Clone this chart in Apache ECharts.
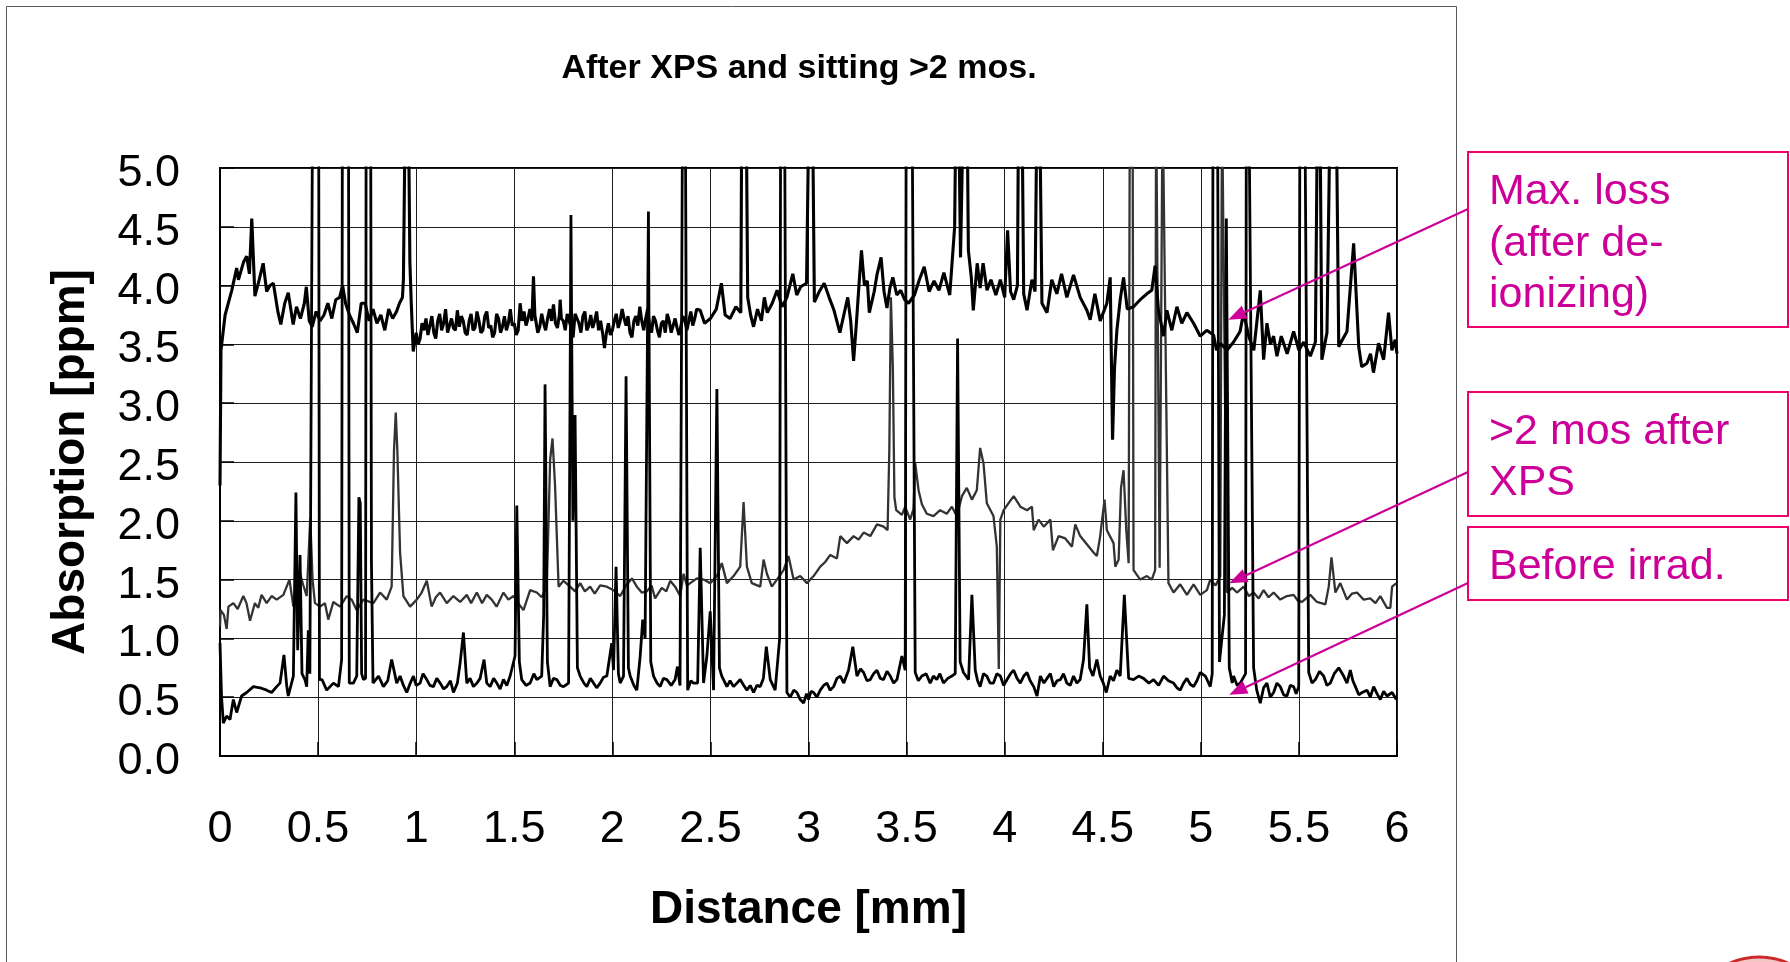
<!DOCTYPE html>
<html>
<head>
<meta charset="utf-8">
<script src="https://cdn.jsdelivr.net/npm/echarts@6/dist/echarts.min.js"></script>
<style>
html,body{margin:0;padding:0;background:#fff;}
#chart{width:1790px;height:962px;}
</style>
</head>
<body>
<div id="chart"></div>
<script>
// ---------- DATA ----------
const chartTitle = 'After XPS and sitting >2 mos.';
const xAxisTitle = 'Distance [mm]';
const yAxisTitle = 'Absorption [ppm]';
const seriesNames = ['Max. loss (after de-ionizing)', '>2 mos after XPS', 'Before irrad.'];

// Max. loss (after de-ionizing) – top trace [distance mm, absorption ppm]
const maxLoss = [[0,2.3],[0.005,3.45],[0.026,3.75],[0.06,3.96],[0.085,4.15],[0.094,4.05],[0.12,4.2],[0.136,4.25],[0.15,4.1],[0.162,4.57],[0.178,3.91],[0.2,4.05],[0.22,4.19],[0.238,3.95],[0.255,4.0],[0.272,4.02],[0.296,3.77],[0.31,3.67],[0.33,3.85],[0.348,3.94],[0.373,3.67],[0.39,3.82],[0.41,3.72],[0.43,3.85],[0.44,3.99],[0.455,3.7],[0.47,3.65],[0.49,3.78],[0.51,3.7],[0.53,3.75],[0.55,3.85],[0.57,3.72],[0.59,3.88],[0.61,3.9],[0.625,4.0],[0.64,3.85],[0.66,3.75],[0.68,3.68],[0.7,3.6],[0.72,3.85],[0.74,3.85],[0.76,3.7],[0.78,3.8],[0.8,3.68],[0.82,3.75],[0.84,3.62],[0.86,3.8],[0.88,3.72],[0.9,3.78],[0.915,3.85],[0.93,3.9],[0.935,4.05],[0.945,5.6],[0.96,5.6],[0.968,4.2],[0.975,3.85],[0.985,3.44],
[1.0,3.6],[1.01,3.5],[1.02,3.55],[1.03,3.68],[1.04,3.62],[1.05,3.72],[1.06,3.58],[1.07,3.66],[1.08,3.74],[1.09,3.6],[1.1,3.55],[1.11,3.7],[1.12,3.76],[1.13,3.62],[1.14,3.68],[1.15,3.8],[1.16,3.6],[1.17,3.66],[1.18,3.72],[1.19,3.64],[1.2,3.62],[1.21,3.79],[1.22,3.65],[1.23,3.74],[1.24,3.7],[1.25,3.6],[1.26,3.58],[1.27,3.7],[1.28,3.76],[1.29,3.62],[1.3,3.64],[1.31,3.78],[1.32,3.7],[1.33,3.6],[1.34,3.62],[1.35,3.74],[1.36,3.78],[1.37,3.64],[1.38,3.66],[1.39,3.56],[1.4,3.6],[1.41,3.76],[1.42,3.72],[1.43,3.6],[1.44,3.65],[1.45,3.74],[1.46,3.62],[1.47,3.68],[1.48,3.8],[1.49,3.66],[1.5,3.68],[1.51,3.58],[1.52,3.62],[1.53,3.85],[1.54,3.7],[1.55,3.78],[1.56,3.66],[1.57,3.72],[1.58,3.8],[1.59,3.7],[1.598,4.08],[1.605,3.75],[1.61,3.7],[1.62,3.6],[1.63,3.65],[1.64,3.76],[1.65,3.68],[1.66,3.62],[1.67,3.72],[1.68,3.8],[1.69,3.7],[1.7,3.84],[1.71,3.68],[1.72,3.64],[1.73,3.75],[1.734,3.88],[1.74,3.72],[1.75,3.7],[1.76,3.62],[1.77,3.76],[1.78,3.7],[1.79,3.64],[1.8,3.56],[1.81,3.76],[1.82,3.72],[1.83,3.68],[1.84,3.6],[1.85,3.74],[1.86,3.78],[1.87,3.62],[1.88,3.66],[1.89,3.75],[1.9,3.64],[1.91,3.7],[1.92,3.78],[1.93,3.62],[1.94,3.7],[1.95,3.6],[1.96,3.47],[1.97,3.6],[1.98,3.68],[1.99,3.58],[2.0,3.62],[2.01,3.7],[2.02,3.76],[2.03,3.64],[2.04,3.7],[2.05,3.8],[2.06,3.72],[2.07,3.66],[2.08,3.74],[2.09,3.6],[2.1,3.56],[2.11,3.7],[2.12,3.74],[2.13,3.66],[2.14,3.82],[2.15,3.7],[2.16,3.62],[2.17,3.72],[2.18,3.8],[2.19,3.66],[2.2,3.6],[2.21,3.74],[2.22,3.7],[2.23,3.62],[2.24,3.56],[2.25,3.68],[2.26,3.7],[2.27,3.6],[2.28,3.76],[2.29,3.7],[2.3,3.6],[2.31,3.66],[2.32,3.72],[2.33,3.64],[2.34,3.58],[2.35,3.66],[2.36,3.74],[2.37,3.7],[2.38,3.62],[2.39,3.7],[2.4,3.78],[2.41,3.66],[2.42,3.72],[2.43,3.8],[2.448,3.79],
[2.47,3.68],[2.5,3.72],[2.53,3.8],[2.556,4.02],[2.575,3.75],[2.6,3.72],[2.63,3.82],[2.655,3.77],[2.66,5.6],[2.682,5.6],[2.69,3.9],[2.705,3.75],[2.72,3.65],[2.74,3.8],[2.76,3.7],[2.775,3.9],[2.79,3.77],[2.815,3.85],[2.84,3.96],[2.865,3.82],[2.89,3.9],[2.92,4.1],[2.94,3.92],[2.96,3.99],[2.99,4.02],[3.003,5.6],[3.02,5.6],[3.03,3.86],[3.055,3.95],[3.08,4.02],[3.105,3.9],[3.13,3.79],[3.16,3.6],[3.18,3.75],[3.2,3.9],[3.215,3.7],[3.23,3.36],[3.245,3.7],[3.26,4.07],[3.27,4.3],[3.285,4.0],[3.3,4.04],[3.31,3.77],[3.335,3.95],[3.35,4.1],[3.37,4.24],[3.385,3.95],[3.4,3.81],[3.415,3.98],[3.43,4.07],[3.45,3.92],[3.47,3.96],[3.49,3.88],[3.51,3.85],[3.54,3.92],[3.565,4.05],[3.59,4.16],[3.615,3.95],[3.64,4.04],[3.665,3.96],[3.69,4.11],[3.72,3.92],[3.745,4.5],[3.752,5.6],[3.765,5.6],[3.775,4.24],[3.79,5.6],[3.808,5.6],[3.815,4.3],[3.83,4.07],[3.84,3.79],[3.86,4.19],[3.875,3.98],[3.89,4.19],[3.91,3.96],[3.93,4.05],[3.955,3.92],[3.978,4.05],[4.0,3.9],[4.015,4.47],[4.03,3.95],[4.046,3.88],[4.065,4.0],[4.071,5.6],[4.088,5.6],[4.097,3.93],[4.114,3.79],[4.139,4.05],[4.155,3.95],[4.165,5.6],[4.178,5.6],[4.19,3.85],[4.216,3.77],[4.24,4.05],[4.266,3.93],[4.29,4.1],[4.317,3.9],[4.351,4.09],[4.385,3.9],[4.419,3.79],[4.436,3.71],[4.46,3.93],[4.487,3.7],[4.521,3.85],[4.538,4.07],[4.55,2.69],[4.56,3.3],[4.572,3.62],[4.589,3.88],[4.606,4.07],[4.625,3.8],[4.657,3.82],[4.691,3.88],[4.725,3.93],[4.75,3.96],[4.767,4.17],[4.784,3.79],[4.81,3.57],[4.827,3.79],[4.852,3.62],[4.878,3.82],[4.903,3.68],[4.929,3.77],[4.963,3.68],[4.997,3.57],[5.03,3.62],[5.065,3.58],[5.08,3.45],[5.1,3.51],[5.133,3.45],[5.167,3.52],[5.2,3.61],[5.218,3.77],[5.244,3.57],[5.27,3.45],[5.303,3.96],[5.32,3.37],[5.337,3.68],[5.355,3.5],[5.371,3.57],[5.388,3.4],[5.41,3.57],[5.44,3.42],[5.473,3.61],[5.5,3.45],[5.524,3.52],[5.558,3.4],[5.584,3.52],[5.595,5.6],[5.607,5.6],[5.617,3.37],[5.643,3.6],[5.66,5.6],[5.69,5.6],[5.703,3.48],[5.725,3.55],[5.745,3.61],[5.779,4.36],[5.805,3.48],[5.82,3.31],[5.847,3.34],[5.865,3.42],[5.88,3.26],[5.906,3.51],[5.932,3.37],[5.957,3.77],[5.974,3.45],[5.991,3.54],[6.0,3.42]];

// >2 mos after XPS – middle trace
const afterXps = [[0,1.1],[0.003,1.24],[0.02,1.2],[0.034,1.08],[0.043,1.27],[0.068,1.3],[0.09,1.25],[0.119,1.36],[0.135,1.3],[0.153,1.15],[0.178,1.3],[0.195,1.26],[0.212,1.37],[0.238,1.3],[0.263,1.36],[0.289,1.33],[0.323,1.37],[0.354,1.5],[0.374,1.27],[0.391,1.36],[0.408,1.55],[0.425,1.45],[0.442,1.36],[0.46,2.02],[0.472,1.5],[0.484,1.3],[0.51,1.27],[0.535,1.3],[0.552,1.16],[0.578,1.31],[0.612,1.27],[0.646,1.36],[0.671,1.33],[0.697,1.24],[0.731,1.33],[0.782,1.3],[0.816,1.39],[0.85,1.33],[0.875,1.44],[0.887,2.6],[0.896,2.92],[0.904,2.6],[0.918,1.73],[0.935,1.36],[0.969,1.27],[1.003,1.33],[1.028,1.39],[1.054,1.49],[1.079,1.27],[1.1,1.35],[1.122,1.39],[1.156,1.3],[1.19,1.36],[1.224,1.31],[1.258,1.37],[1.28,1.3],[1.309,1.39],[1.336,1.3],[1.36,1.37],[1.385,1.33],[1.41,1.27],[1.445,1.39],[1.47,1.33],[1.496,1.36],[1.52,1.3],[1.547,1.24],[1.581,1.41],[1.615,1.39],[1.64,1.35],[1.666,1.44],[1.683,2.52],[1.695,2.7],[1.708,2.3],[1.726,1.44],[1.751,1.49],[1.785,1.44],[1.81,1.4],[1.836,1.47],[1.86,1.4],[1.887,1.44],[1.91,1.38],[1.938,1.45],[1.972,1.44],[2.006,1.41],[2.04,1.36],[2.07,1.45],[2.1,1.51],[2.125,1.44],[2.15,1.39],[2.176,1.4],[2.2,1.45],[2.218,1.34],[2.252,1.43],[2.275,1.4],[2.295,1.49],[2.32,1.44],[2.346,1.36],[2.363,1.55],[2.38,1.45],[2.397,1.47],[2.431,1.51],[2.465,1.5],[2.499,1.47],[2.533,1.53],[2.558,1.64],[2.584,1.47],[2.618,1.53],[2.652,1.61],[2.669,2.16],[2.686,1.61],[2.711,1.47],[2.754,1.44],[2.771,1.67],[2.788,1.55],[2.813,1.44],[2.839,1.5],[2.873,1.58],[2.898,1.7],[2.924,1.5],[2.958,1.53],[2.992,1.47],[3.026,1.53],[3.06,1.61],[3.085,1.65],[3.111,1.71],[3.145,1.68],[3.162,1.87],[3.196,1.81],[3.23,1.87],[3.255,1.84],[3.281,1.9],[3.315,1.87],[3.349,1.97],[3.383,1.95],[3.403,1.92],[3.412,2.6],[3.42,3.9],[3.43,3.3],[3.438,2.2],[3.447,2.09],[3.476,2.05],[3.493,2.12],[3.518,2.01],[3.535,2.1],[3.544,2.49],[3.561,2.26],[3.578,2.14],[3.603,2.06],[3.637,2.04],[3.671,2.09],[3.705,2.06],[3.731,2.12],[3.756,2.04],[3.782,2.21],[3.807,2.28],[3.833,2.18],[3.858,2.26],[3.875,2.62],[3.892,2.49],[3.909,2.15],[3.943,2.04],[3.96,1.78],[3.97,0.74],[3.978,2.01],[3.995,2.09],[4.02,2.15],[4.046,2.21],[4.08,2.12],[4.114,2.09],[4.139,2.12],[4.148,1.92],[4.173,2.01],[4.199,1.95],[4.233,2.01],[4.246,1.75],[4.275,1.87],[4.309,1.85],[4.343,1.78],[4.36,1.97],[4.385,1.87],[4.419,1.8],[4.453,1.73],[4.47,1.7],[4.487,1.87],[4.509,2.18],[4.521,1.92],[4.555,1.81],[4.564,1.61],[4.581,1.67],[4.593,2.28],[4.606,2.43],[4.62,1.92],[4.632,1.64],[4.638,5.6],[4.652,5.6],[4.657,1.58],[4.691,1.5],[4.725,1.53],[4.75,1.5],[4.767,1.58],[4.772,5.6],[4.782,5.6],[4.79,1.6],[4.805,5.6],[4.815,5.6],[4.835,1.47],[4.861,1.39],[4.895,1.46],[4.929,1.37],[4.963,1.46],[4.997,1.37],[5.031,1.41],[5.048,1.5],[5.075,1.45],[5.099,1.53],[5.108,5.6],[5.118,5.6],[5.133,1.39],[5.16,1.43],[5.184,1.39],[5.218,1.44],[5.245,1.36],[5.269,1.39],[5.295,1.34],[5.32,1.41],[5.345,1.35],[5.371,1.39],[5.405,1.33],[5.439,1.36],[5.473,1.37],[5.495,1.32],[5.516,1.31],[5.558,1.37],[5.592,1.31],[5.635,1.29],[5.652,1.44],[5.666,1.69],[5.686,1.39],[5.711,1.47],[5.745,1.33],[5.77,1.38],[5.796,1.39],[5.83,1.33],[5.864,1.34],[5.89,1.3],[5.915,1.36],[5.949,1.26],[5.966,1.26],[5.975,1.44],[5.997,1.47]];

// Before irrad. – bottom trace
const beforeIrrad = [[0,0.96],[0.008,0.5],[0.017,0.28],[0.034,0.34],[0.051,0.31],[0.068,0.48],[0.085,0.37],[0.11,0.51],[0.136,0.54],[0.17,0.59],[0.204,0.58],[0.238,0.56],[0.263,0.54],[0.289,0.59],[0.306,0.62],[0.326,0.86],[0.34,0.6],[0.348,0.51],[0.374,0.68],[0.387,2.24],[0.396,0.9],[0.408,1.71],[0.418,0.7],[0.433,0.65],[0.442,0.59],[0.45,1.07],[0.458,0.7],[0.468,0.7],[0.472,5.6],[0.503,5.6],[0.507,0.65],[0.52,0.65],[0.544,0.56],[0.578,0.62],[0.604,0.59],[0.62,0.82],[0.624,5.6],[0.655,5.6],[0.659,0.62],[0.68,0.62],[0.697,0.68],[0.708,2.2],[0.715,2.15],[0.722,0.7],[0.731,0.65],[0.742,0.66],[0.745,5.6],[0.768,5.6],[0.772,1.65],[0.78,0.62],[0.808,0.68],[0.833,0.59],[0.855,0.64],[0.875,0.82],[0.901,0.62],[0.918,0.68],[0.935,0.6],[0.952,0.54],[0.97,0.62],[0.986,0.68],[1.0,0.6],[1.02,0.62],[1.035,0.7],[1.054,0.65],[1.07,0.6],[1.088,0.59],[1.105,0.66],[1.122,0.62],[1.14,0.57],[1.156,0.59],[1.175,0.64],[1.19,0.54],[1.21,0.62],[1.224,0.79],[1.241,1.05],[1.258,0.62],[1.275,0.66],[1.292,0.59],[1.31,0.62],[1.326,0.66],[1.346,0.82],[1.36,0.62],[1.377,0.59],[1.395,0.66],[1.411,0.62],[1.428,0.57],[1.445,0.65],[1.462,0.6],[1.479,0.68],[1.504,0.85],[1.513,2.13],[1.526,0.8],[1.538,0.65],[1.56,0.6],[1.581,0.62],[1.6,0.7],[1.615,0.65],[1.64,0.68],[1.65,1.2],[1.657,3.16],[1.669,0.8],[1.683,0.59],[1.7,0.66],[1.717,0.65],[1.735,0.6],[1.751,0.59],[1.777,0.62],[1.789,4.6],[1.799,2.0],[1.81,2.9],[1.822,0.75],[1.836,0.68],[1.855,0.62],[1.87,0.59],[1.888,0.66],[1.904,0.62],[1.92,0.58],[1.938,0.62],[1.955,0.67],[1.972,0.68],[1.997,0.96],[2.006,0.73],[2.019,1.61],[2.031,0.7],[2.04,0.62],[2.057,0.68],[2.07,3.23],[2.082,0.75],[2.091,0.68],[2.11,0.6],[2.125,0.56],[2.142,0.85],[2.155,1.16],[2.167,1.0],[2.184,4.63],[2.196,0.8],[2.21,0.68],[2.228,0.62],[2.244,0.59],[2.26,0.66],[2.278,0.65],[2.3,0.6],[2.32,0.65],[2.332,0.76],[2.345,0.6],[2.358,5.6],[2.372,5.6],[2.384,0.56],[2.4,0.64],[2.414,0.62],[2.435,0.62],[2.448,1.77],[2.465,0.62],[2.482,0.85],[2.499,1.23],[2.516,0.56],[2.533,3.12],[2.546,0.75],[2.558,0.68],[2.584,0.59],[2.6,0.64],[2.618,0.59],[2.635,0.62],[2.652,0.65],[2.67,0.6],[2.686,0.56],[2.703,0.6],[2.72,0.54],[2.737,0.6],[2.754,0.59],[2.77,0.66],[2.785,0.93],[2.805,0.65],[2.83,0.56],[2.853,1.0],[2.858,5.6],[2.878,5.6],[2.89,0.54],[2.907,0.5],[2.925,0.56],[2.941,0.54],[2.958,0.48],[2.975,0.45],[2.99,0.53],[3.0,0.48],[3.013,0.55],[3.026,0.54],[3.043,0.5],[3.06,0.56],[3.077,0.6],[3.094,0.62],[3.11,0.56],[3.128,0.59],[3.145,0.66],[3.162,0.68],[3.18,0.62],[3.204,0.73],[3.226,0.93],[3.247,0.68],[3.265,0.74],[3.281,0.71],[3.298,0.64],[3.315,0.65],[3.332,0.7],[3.349,0.73],[3.366,0.66],[3.383,0.65],[3.4,0.72],[3.417,0.68],[3.434,0.62],[3.451,0.65],[3.476,0.85],[3.493,0.73],[3.498,5.6],[3.528,5.6],[3.544,0.71],[3.56,0.64],[3.578,0.68],[3.6,0.7],[3.62,0.62],[3.637,0.68],[3.654,0.65],[3.67,0.7],[3.688,0.62],[3.71,0.66],[3.731,0.68],[3.748,0.7],[3.76,3.55],[3.773,0.8],[3.79,0.71],[3.816,0.65],[3.833,1.37],[3.85,0.73],[3.862,0.64],[3.875,0.59],[3.892,0.7],[3.909,0.68],[3.926,0.62],[3.943,0.62],[3.96,0.7],[3.978,0.68],[3.995,0.6],[4.012,0.65],[4.03,0.7],[4.046,0.73],[4.063,0.66],[4.08,0.62],[4.097,0.68],[4.114,0.71],[4.13,0.64],[4.148,0.59],[4.165,0.51],[4.182,0.68],[4.2,0.62],[4.216,0.66],[4.233,0.7],[4.25,0.59],[4.267,0.64],[4.284,0.65],[4.3,0.7],[4.317,0.62],[4.334,0.6],[4.351,0.68],[4.368,0.62],[4.385,0.65],[4.402,0.82],[4.419,1.29],[4.433,0.75],[4.45,0.68],[4.47,0.82],[4.487,0.68],[4.503,0.62],[4.518,0.54],[4.538,0.68],[4.555,0.64],[4.572,0.73],[4.589,0.68],[4.61,1.37],[4.632,0.66],[4.657,0.65],[4.683,0.68],[4.708,0.66],[4.735,0.62],[4.759,0.65],[4.785,0.6],[4.81,0.68],[4.835,0.64],[4.861,0.62],[4.878,0.58],[4.895,0.56],[4.912,0.62],[4.929,0.66],[4.946,0.61],[4.963,0.59],[4.98,0.64],[4.997,0.71],[5.023,0.68],[5.048,0.59],[5.058,0.7],[5.062,5.6],[5.085,5.6],[5.095,0.8],[5.12,1.2],[5.13,4.57],[5.145,0.75],[5.16,0.62],[5.167,0.68],[5.185,0.6],[5.201,0.62],[5.228,0.7],[5.232,5.6],[5.245,5.6],[5.269,0.75],[5.285,0.56],[5.303,0.45],[5.32,0.58],[5.337,0.62],[5.354,0.5],[5.371,0.54],[5.388,0.62],[5.405,0.59],[5.422,0.52],[5.439,0.51],[5.456,0.6],[5.473,0.59],[5.486,0.53],[5.499,0.59],[5.505,5.6],[5.53,5.6],[5.55,0.71],[5.567,0.62],[5.584,0.65],[5.605,0.72],[5.626,0.68],[5.643,0.6],[5.66,0.62],[5.68,0.7],[5.703,0.75],[5.728,0.68],[5.745,0.62],[5.762,0.73],[5.775,0.64],[5.788,0.59],[5.805,0.52],[5.822,0.54],[5.847,0.56],[5.864,0.5],[5.881,0.59],[5.898,0.53],[5.915,0.48],[5.932,0.55],[5.949,0.51],[5.975,0.54],[5.997,0.48]];

// Axis ranges / ticks
const xRange = [0, 6], xStep = 0.5;
const yRange = [0, 5], yStep = 0.5;

// Annotation call-outs (text lines) and the data point each arrow points at
const callouts = [
  { lines: ['Max. loss', '(after de-', 'ionizing)'], target: [5.14, 3.71] },
  { lines: ['>2 mos after', 'XPS'], target: [5.145, 1.47] },
  { lines: ['Before irrad.'], target: [5.145, 0.52] }
];

// ---------- LAYOUT / STYLE ----------
const FONT = '"Liberation Sans", Arial, Helvetica, sans-serif';
const MAGENTA = '#cc0099';
const BOXLINE = '#f0006e';
const boxes = [
  { x: 1468, y: 152, w: 320, h: 175, lineY: [192.5, 244, 295], anchorY: 209 },
  { x: 1468, y: 392, w: 320, h: 124, lineY: [432, 483], anchorY: 472 },
  { x: 1468, y: 527, w: 320, h: 73, lineY: [567.5], anchorY: 583 }
];

const chart = echarts.init(document.getElementById('chart'), null, { renderer: 'canvas' });

const axisCommon = {
  type: 'value',
  nameLocation: 'middle',
  nameTextStyle: { fontSize: 46, fontWeight: 'bold', color: '#000', fontFamily: FONT },
  axisLine: { show: true, lineStyle: { color: '#000', width: 2 } },
  axisTick: { show: true, inside: true, length: 14, lineStyle: { color: '#000', width: 1.5 } },
  splitLine: { show: true, lineStyle: { color: '#1e1e1e', width: 1 } },
  minorTick: { show: false }
};

const option = {
  animation: false,
  backgroundColor: '#ffffff',
  title: {
    text: chartTitle, left: 794, top: 47, textAlign: 'center',
    textStyle: { fontSize: 34, fontWeight: 'bold', color: '#000', fontFamily: FONT }
  },
  grid: { left: 220, top: 168, width: 1177, height: 588, show: true, borderColor: '#000', borderWidth: 2, backgroundColor: 'rgba(0,0,0,0)' },
  xAxis: Object.assign({}, axisCommon, {
    min: xRange[0], max: xRange[1], interval: xStep, name: xAxisTitle, nameGap: 131,
    axisLabel: { fontSize: 45, color: '#000', margin: 51, fontFamily: FONT }
  }),
  yAxis: Object.assign({}, axisCommon, {
    min: yRange[0], max: yRange[1], interval: yStep, name: yAxisTitle, nameGap: 126,
    axisLabel: { fontSize: 45, color: '#000', margin: 40, fontFamily: FONT, verticalAlign: 'top', lineHeight: 11, formatter: v => v.toFixed(1) }
  }),
  series: [
    { name: seriesNames[2], type: 'line', data: beforeIrrad, symbol: 'none', clip: true,
      lineStyle: { color: '#000', width: 2.8 }, z: 3 },
    { name: seriesNames[1], type: 'line', data: afterXps, symbol: 'none', clip: true,
      lineStyle: { color: '#333333', width: 2.3 }, z: 2 },
    { name: seriesNames[0], type: 'line', data: maxLoss, symbol: 'none', clip: true,
      lineStyle: { color: '#000', width: 3.1 }, z: 4 }
  ]
};
chart.setOption(option);

// ---------- Annotation graphics (boxes, text, arrows, page frame) ----------
const graphics = [];
graphics.push({ type: 'rect', shape: { x: 6.5, y: 6.5, width: 1450, height: 1100 },
  style: { fill: 'none', stroke: '#5a5a5a', lineWidth: 1 }, silent: true, z: 1 });
graphics.push({ type: 'circle', shape: { cx: 1759, cy: 1027, r: 70 },
  style: { fill: '#f3c6c6', stroke: '#cc2a2a', lineWidth: 3 }, silent: true });

callouts.forEach((c, i) => {
  const b = boxes[i];
  graphics.push({ type: 'rect', shape: { x: b.x, y: b.y, width: b.w, height: b.h },
    style: { fill: '#fff', stroke: BOXLINE, lineWidth: 2 }, z: 10 });
  c.lines.forEach((t, j) => {
    graphics.push({ type: 'text', z: 11,
      style: { text: t, x: 1489, y: b.lineY[j], fill: MAGENTA, font: '43px ' + FONT, verticalAlign: 'middle', align: 'left' } });
  });
  const tip = chart.convertToPixel({ gridIndex: 0 }, c.target);
  const sx = b.x, sy = b.anchorY;
  const dx = tip[0] - sx, dy = tip[1] - sy, len = Math.hypot(dx, dy);
  const ux = dx / len, uy = dy / len;
  const L = 18, W = 7;
  const bx = tip[0] - ux * L, by = tip[1] - uy * L;
  graphics.push({ type: 'line', z: 12, shape: { x1: sx, y1: sy, x2: bx, y2: by },
    style: { stroke: MAGENTA, lineWidth: 2.2 } });
  graphics.push({ type: 'polygon', z: 12,
    shape: { points: [[tip[0], tip[1]], [bx - uy * W, by + ux * W], [bx + uy * W, by - ux * W]] },
    style: { fill: MAGENTA } });
});
chart.setOption({ graphic: graphics });
</script>
</body>
</html>
